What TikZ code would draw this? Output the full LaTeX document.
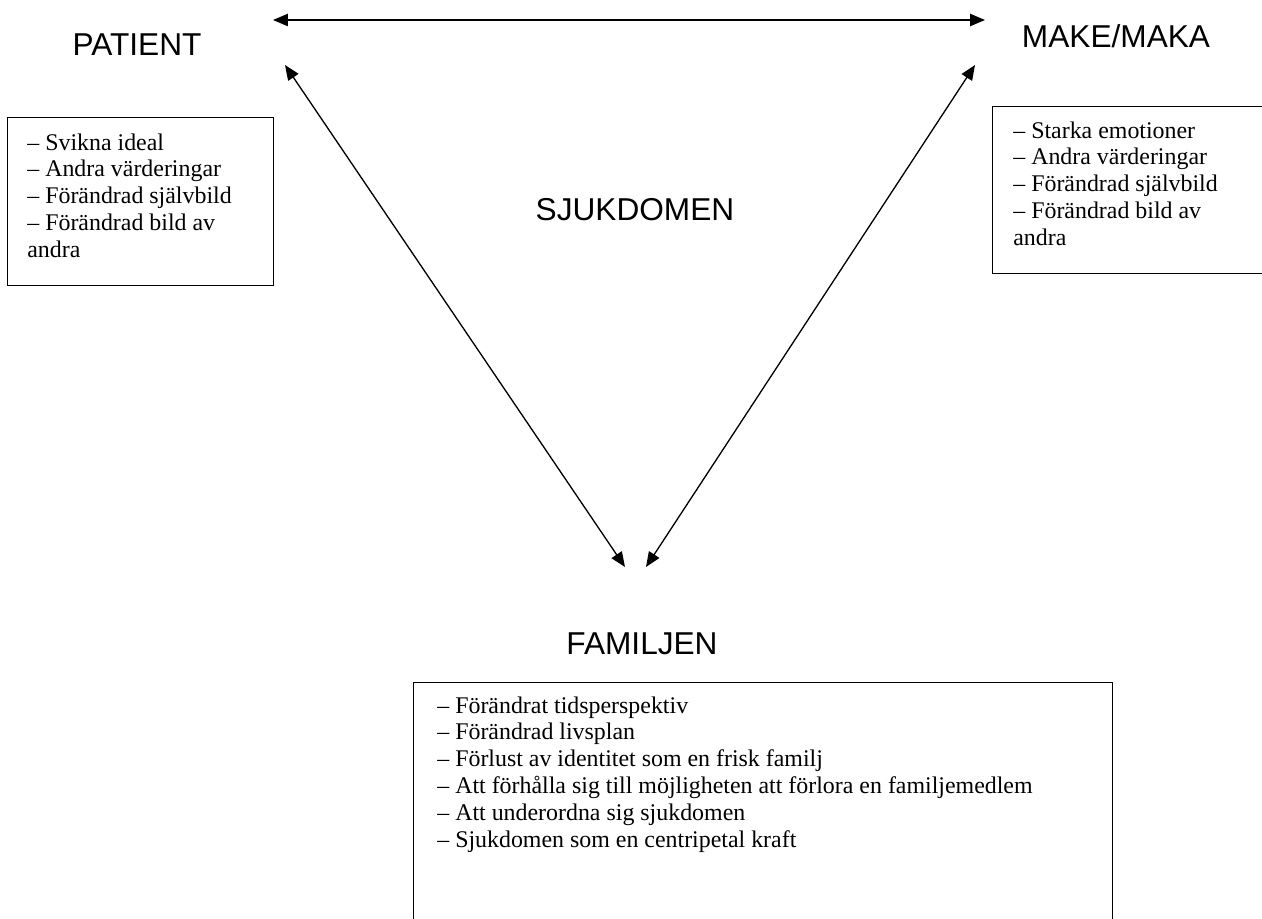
\documentclass[tikz,border=0pt]{standalone}
\usepackage{fontspec}
\setmainfont{Liberation Serif}
\setsansfont{Liberation Sans}
\usetikzlibrary{arrows.meta,positioning}

\tikzset{
  heading/.style={font=\sffamily\fontsize{18}{21}\selectfont, inner sep=0pt},
  listbox/.style={draw, line width=0.8pt, anchor=north west, inner sep=0pt},
  listtext/.style={font=\fontsize{13.6}{15.3}\selectfont, align=left, anchor=base west, inner sep=0pt},
  link/.style={{Triangle[length=8.5pt,width=7pt]}-{Triangle[length=8.5pt,width=7pt]}, line width=0.75pt},
}

\begin{document}
\begin{tikzpicture}[x=0.02cm, y=-0.02cm]
  \clip (0,0) rectangle (1262,919);

  %draw headings
  \node[heading] (patient) at (137,45) {PATIENT};
  \node[heading] (make) at (1116,36) {MAKE/MAKA};
  \node[heading] (sjukdom) at (635,210) {SJUKDOMEN};
  \node[heading] (familj) at (642,644) {FAMILJEN};

  %draw boxes
  \node[listbox, minimum width=5.32cm, minimum height=3.36cm] (patbox) at (7,117) {};
  \node[listbox, minimum width=5.8cm, minimum height=3.34cm] (makebox) at (992,106) {};
  \node[listbox, minimum width=13.98cm, minimum height=5.6cm] (familjbox) at (413,682) {};

  %draw lists (anchored at the last line)
  \node[listtext] (pattext) at (27,257.6)
    {– Svikna ideal\\– Andra värderingar\\– Förändrad självbild\\– Förändrad bild av\\andra};
  \node[listtext] (maketext) at (1013,245.6)
    {– Starka emotioner\\– Andra värderingar\\– Förändrad självbild\\– Förändrad bild av\\andra};
  \node[listtext] (familjtext) at (437,847.5)
    {– Förändrat tidsperspektiv\\– Förändrad livsplan\\– Förlust av identitet som en frisk familj\\%
     – Att förhålla sig till möjligheten att förlora en familjemedlem\\– Att underordna sig sjukdomen\\%
     – Sjukdomen som en centripetal kraft};

  %draw arrows
  \coordinate (patR) at (273,20);
  \coordinate (makeL) at (985,20);
  \coordinate (patD) at (285,65);
  \coordinate (makeD) at (975,65);
  \coordinate (familjL) at (625,567);
  \coordinate (familjR) at (646,567);
  \draw[link] (patR) -- (makeL);
  \draw[link] (patD) -- (familjL);
  \draw[link] (makeD) -- (familjR);
\end{tikzpicture}
\end{document}
